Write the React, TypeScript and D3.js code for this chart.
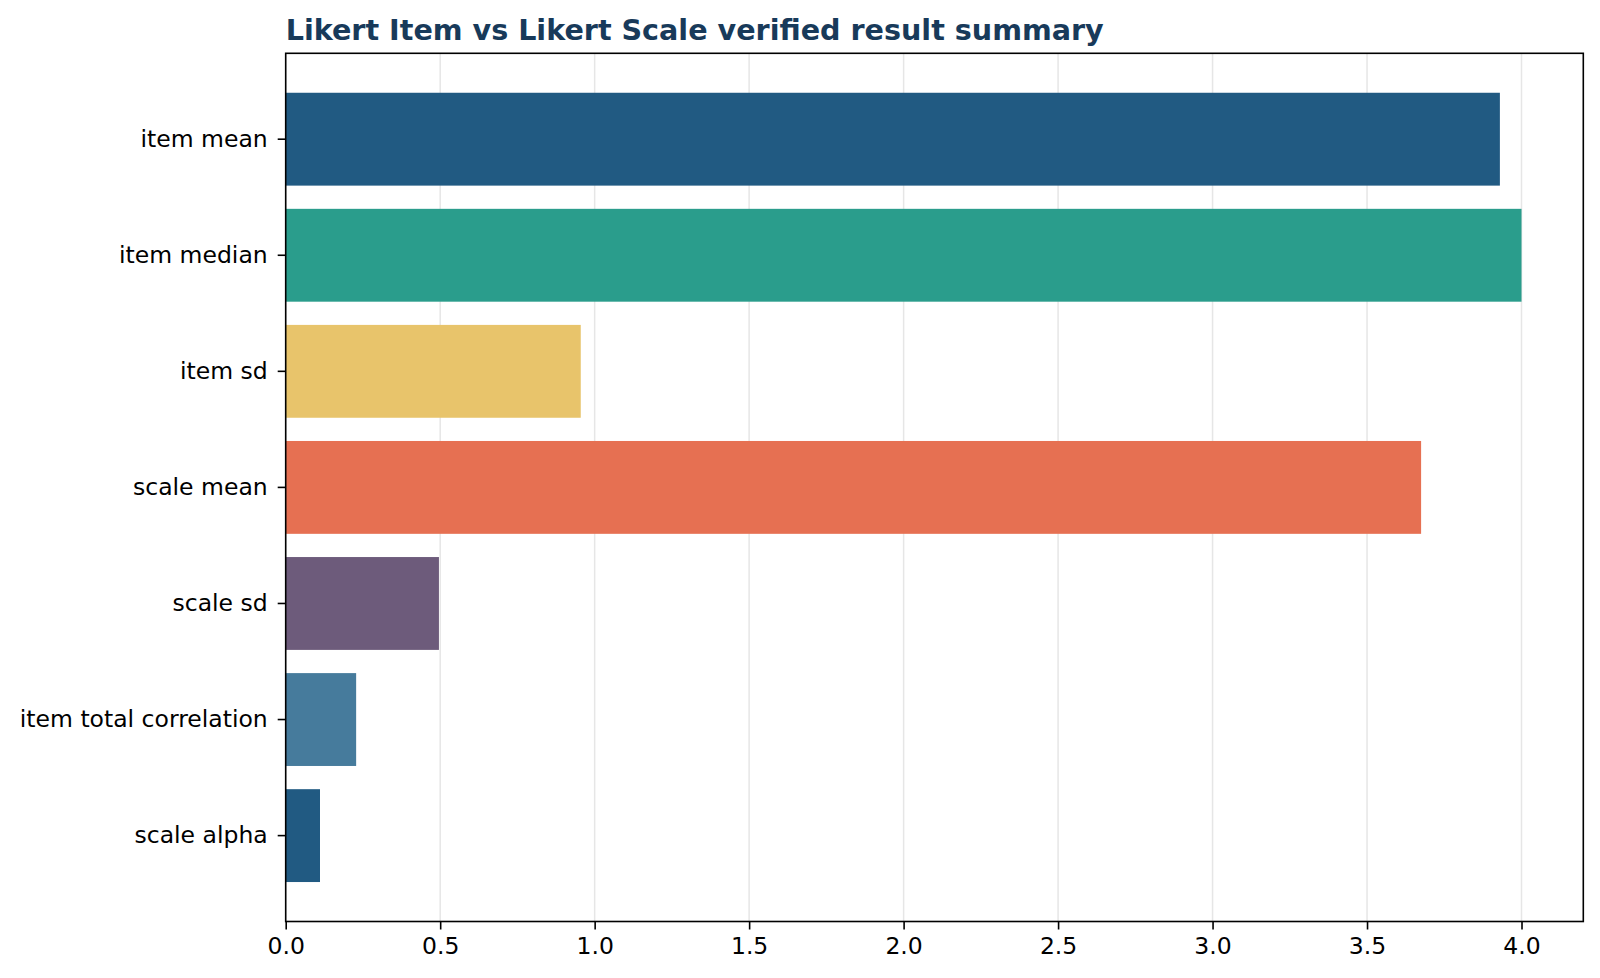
import React, { useEffect, useRef } from "react";
import * as d3 from "d3";

const categories = [
  "item mean",
  "item median",
  "item sd",
  "scale mean",
  "scale sd",
  "item total correlation",
  "scale alpha",
];
const values = [3.93, 4.0, 0.955, 3.675, 0.496, 0.228, 0.111];
const barColors = [
  "#215a82",
  "#2a9d8c",
  "#e8c46b",
  "#e67052",
  "#6d5b7b",
  "#467b9c",
  "#215a82",
];
const xTicks = [0, 0.5, 1, 1.5, 2, 2.5, 3, 3.5, 4];
const title = "Likert Item vs Likert Scale verified result summary";

const W = 1600;
const H = 978;
const margin = { top: 53.3, right: 16.7, bottom: 56.5, left: 285.7 };

const App = () => {
  const ref = useRef<SVGSVGElement>(null);

  useEffect(() => {
    const svg = d3.select(ref.current);
    svg.selectAll("*").remove();

    const x = d3
      .scaleLinear()
      .domain([0, 4.2])
      .range([margin.left, W - margin.right]);
    const y = d3
      .scaleBand<string>()
      .domain(categories)
      .range([margin.top, H - margin.bottom])
      .paddingInner(0.2)
      .paddingOuter(0.34);

    // grid
    svg
      .append("g")
      .selectAll("line")
      .data(xTicks)
      .join("line")
      .attr("x1", (d) => x(d))
      .attr("x2", (d) => x(d))
      .attr("y1", margin.top)
      .attr("y2", H - margin.bottom)
      .attr("stroke", "#e6e6e6")
      .attr("stroke-width", 1.5);

    // bars
    svg
      .append("g")
      .selectAll("rect")
      .data(values)
      .join("rect")
      .attr("x", x(0))
      .attr("y", (d, i) => y(categories[i])!)
      .attr("width", (d) => x(d) - x(0))
      .attr("height", y.bandwidth())
      .attr("fill", (d, i) => barColors[i]);

    // x axis
    const xAxis = svg
      .append("g")
      .attr("transform", `translate(0,${H - margin.bottom})`)
      .call(
        d3
          .axisBottom(x)
          .tickValues(xTicks)
          .tickFormat(d3.format(".1f"))
          .tickSize(8)
          .tickPadding(8)
      );
    xAxis.select(".domain").remove();
    xAxis.selectAll("line").attr("stroke", "#000").attr("stroke-width", 1.6);
    xAxis
      .selectAll("text")
      .attr("fill", "#000")
      .style("font-family", "DejaVu Sans")
      .style("font-size", "23.5px");

    // y axis
    const yAxis = svg
      .append("g")
      .attr("transform", `translate(${margin.left},0)`)
      .call(d3.axisLeft(y).tickSize(8).tickPadding(10));
    yAxis.select(".domain").remove();
    yAxis.selectAll("line").attr("stroke", "#000").attr("stroke-width", 1.6);
    yAxis
      .selectAll("text")
      .attr("fill", "#000")
      .style("font-family", "DejaVu Sans")
      .style("font-size", "23.5px");

    // frame
    svg
      .append("rect")
      .attr("x", margin.left)
      .attr("y", margin.top)
      .attr("width", W - margin.left - margin.right)
      .attr("height", H - margin.top - margin.bottom)
      .attr("fill", "none")
      .attr("stroke", "#000")
      .attr("stroke-width", 1.6);

    // title
    svg
      .append("text")
      .attr("x", margin.left)
      .attr("y", 39.5)
      .attr("fill", "#183a5a")
      .style("font-family", "DejaVu Sans")
      .style("font-weight", "bold")
      .style("font-size", "28.6px")
      .text(title);
  }, []);

  return (
    <svg
      ref={ref}
      width={W}
      height={H}
      style={{ position: "absolute", left: 0, top: 0, background: "#fff" }}
    />
  );
};

export default App;
